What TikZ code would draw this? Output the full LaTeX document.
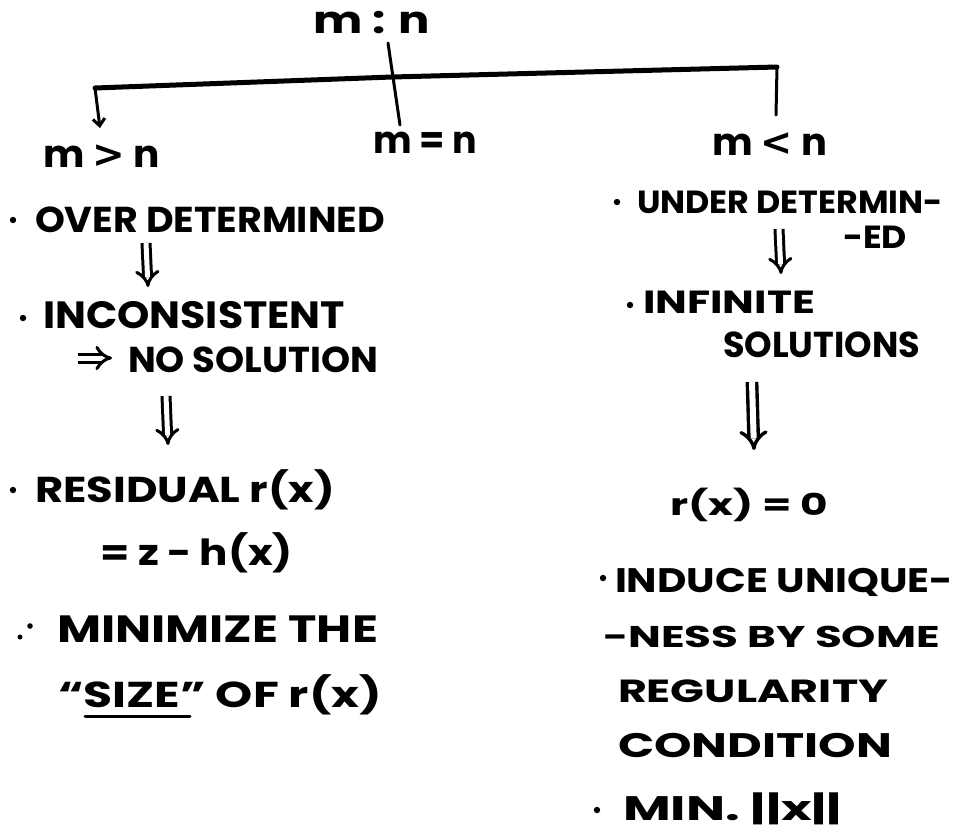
\documentclass[tikz,border=0pt]{standalone}
\usepackage{fontspec}
\usepackage{graphicx}
\setmainfont{Poppins}
\newfontfamily\symf{DejaVu Sans}
\usetikzlibrary{arrows.meta}
\newcommand{\fsz}[1]{\fontsize{#1}{#1}\selectfont\bfseries}
\newcommand{\fitw}[2]{\resizebox{#1pt}{\height}{#2}}
\begin{document}
\begin{tikzpicture}[x=1pt,y=-1pt,
  txt/.style={anchor=base west, inner sep=0pt, outer sep=0pt},
  bar/.style={line width=5pt, line cap=round, line join=round},
  stem/.style={line width=3pt, line cap=round},
  dimp/.style={double, line width=3pt, double distance=5pt, -{Implies}},
  bigimp/.style={double, line width=3.4pt, double distance=6pt, -{Implies}},
  dotmark/.style={fill=black}]
\useasboundingbox (0,0) rectangle (959,831);
% top
\node[txt, font=\fsz{38}] (top) at (313,33) {\fitw{117}{m : n}};
\node[txt, font=\fsz{38}] (gt) at (43,167) {\fitw{117}{m {\symf\bfseries >} n}};
\node[txt, font=\fsz{38}] (eq) at (373,153) {\fitw{104}{m = n}};
\node[txt, font=\fsz{38}] (lt) at (712,155) {\fitw{115}{m {\symf\bfseries <} n}};
\coordinate (vt) at (388,43);
\coordinate (vb) at (400,125);
\coordinate (bl) at (95,88);
\coordinate (bm) at (392,77);
\coordinate (br) at (777,67);
\coordinate (blend) at (100,128);
\coordinate (brend) at (776,115);
\draw[bar] (bl) -- (bm) -- (br);
\draw[stem] (vt) -- (vb);
\draw[stem, -{Straight Barb[length=7pt,width=12pt]}] (bl) -- (blend);
\draw[stem] (br) -- (brend);
% left column
\fill[dotmark] (13,220) circle (3.2);
\node[txt, font=\fsz{36}] (od) at (35,232) {\fitw{350}{OVER DETERMINED}};
\coordinate (a1s) at (146,243);
\coordinate (a1e) at (148,287);
\draw[dimp] (a1s) -- (a1e);
\fill[dotmark] (23,318) circle (3.2);
\node[txt, font=\fsz{38}] (inc) at (43,328) {\fitw{302}{INCONSISTENT}};
\coordinate (ims) at (78,358);
\coordinate (ime) at (112,358);
\draw[dimp] (ims) -- (ime);
\node[txt, font=\fsz{36}] (nos) at (128,372) {\fitw{250}{NO SOLUTION}};
\coordinate (a2s) at (166,396);
\coordinate (a2e) at (168,445);
\draw[dimp] (a2s) -- (a2e);
\fill[dotmark] (13,490) circle (3.2);
\node[txt, font=\fsz{36}] (res) at (35,502) {\fitw{300}{RESIDUAL r(x)}};
\node[txt, font=\fsz{36}] (zh) at (100,565) {\fitw{193}{= z − h(x)}};
\fill[dotmark] (20,637) circle (2.5);
\fill[dotmark] (30,626) circle (2.8);
\node[txt, font=\fsz{38}] (min) at (57,642) {\fitw{321}{MINIMIZE THE}};
\node[txt, font=\fsz{36}] (size) at (58,707) {\fitw{324}{“SIZE” OF r(x)}};
\coordinate (ul1) at (85,716);
\coordinate (ul2) at (190,716);
\draw[stem] (ul1) -- (ul2);
% right column
\fill[dotmark] (617,202) circle (3.2);
\node[txt, font=\fsz{32}] (ud) at (637,213) {\fitw{306}{UNDER DETERMIN-}};
\node[txt, font=\fsz{32}] (ed) at (843,248) {\fitw{64}{-ED}};
\coordinate (a3s) at (779,229);
\coordinate (a3e) at (781,274);
\draw[dimp] (a3s) -- (a3e);
\fill[dotmark] (630,305) circle (3.2);
\node[txt, font=\fsz{32}] (inf) at (643,313) {\fitw{172}{INFINITE}};
\node[txt, font=\fsz{36}] (sol) at (723,357) {\fitw{197}{SOLUTIONS}};
\coordinate (a4s) at (752,382);
\coordinate (a4e) at (754,450);
\draw[bigimp] (a4s) -- (a4e);
\node[txt, font=\fsz{30}] (r0) at (670,515) {\fitw{158}{r(x) = 0}};
\fill[dotmark] (603,578) circle (3.2);
\node[txt, font=\fsz{34}] (ind) at (615,592) {\fitw{338}{INDUCE UNIQUE-}};
\node[txt, font=\fsz{30}] (ness) at (603,647) {\fitw{337}{-NESS BY SOME}};
\node[txt, font=\fsz{32}] (reg) at (618,702) {\fitw{270}{REGULARITY}};
\node[txt, font=\fsz{34}] (cond) at (618,757) {\fitw{274}{CONDITION}};
\fill[dotmark] (597,810) circle (3.2);
\node[txt, font=\fsz{34}] (mn) at (623,820) {\fitw{219}{MIN. ||x||}};
\end{tikzpicture}
\end{document}
